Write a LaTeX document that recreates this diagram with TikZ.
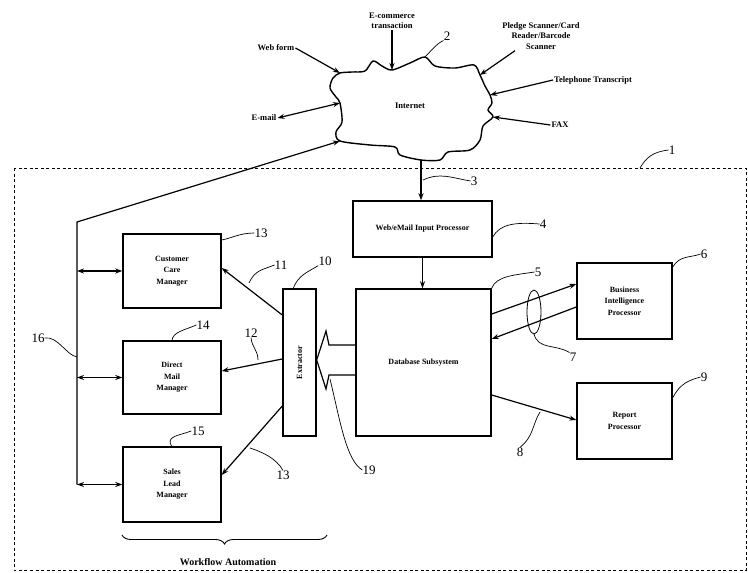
\documentclass[tikz,border=0pt]{standalone}
\usepackage{fontspec}
\usepackage{graphicx}
\setmainfont{Liberation Serif}
\usetikzlibrary{arrows.meta,decorations.pathreplacing,calc}
\begin{document}
\begin{tikzpicture}[x=1pt,y=-1pt,
  box/.style={draw,line width=1.4pt,align=center,font=\fontsize{8}{11.5}\selectfont\bfseries,inner sep=0pt},
  txt/.style={align=center,font=\fontsize{8.5}{10.5}\selectfont\bfseries,inner sep=1pt},
  num/.style={font=\fontsize{13}{13}\selectfont,inner sep=0pt},
  conn/.style={line width=1.2pt,-{Stealth[length=7pt,width=5pt]}},
  bidir/.style={line width=1.2pt,{Stealth[length=7pt,width=5pt]}-{Stealth[length=7pt,width=5pt]}},
  lead/.style={line width=0.7pt},
]
\useasboundingbox (0,0) rectangle (748,573);

% outer dashed system boundary
\draw[dash pattern=on 3pt off 2.5pt, line width=0.9pt] (14,168) rectangle (746,570);

% Internet cloud
\draw[line width=1.4pt] plot[smooth cycle, tension=0.5] coordinates {
 (333,78) (340,73) (352,72) (365,71) (373,61) (382,66) (392,70) (410,63) (425,57)
 (435,66) (455,68) (474,65) (480,75) (485,86) (490,95) (492,103) (488,110) (493,117)
 (483,126) (480,140) (470,150) (448,152) (440,160) (421,160) (400,155) (395,147)
 (370,145) (340,141) (336,132) (342,122) (340,103) (336,97) (330,88)};
\node[txt] (inet) at (410,106) {Internet};
\coordinate (cWeb) at (340,73);
\coordinate (cEcom) at (392,70);
\coordinate (c2) at (425,57);
\coordinate (cPledge) at (480,75);
\coordinate (cTel) at (490,95);
\coordinate (cFax) at (493,117);
\coordinate (cEmail) at (340,103);
\coordinate (cTrunk) at (340,141);
\coordinate (cBot) at (421,160);

% input sources
\node[txt] (web) at (276,48) {Web form};
\node[txt] (ecom) at (392,21) {E-commerce\\transaction};
\node[txt] (email) at (264,118) {E-mail};
\node[txt] (pledge) at (541,36) {Pledge Scanner/Card\\Reader/Barcode\\Scanner};
\node[txt] (tel) at (593,80) {Telephone Transcript};
\node[txt] (fax) at (560,125) {FAX};

\draw[conn] (web.east) -- (cWeb);
\draw[conn] (ecom.south) -- (cEcom);
\draw[bidir] (email.east) -- (cEmail);
\draw[conn] ([xshift=-26pt]pledge.south) -- (cPledge);
\draw[conn] (tel.west) -- (cTel);
\draw[conn] (fax.west) -- (cFax);

% processing boxes
\node[box,minimum width=139pt,minimum height=56pt] (inp) at (422.5,229) {Web/eMail Input Processor};
\node[box,minimum width=135pt,minimum height=147pt] (db) at (423.5,362.5) {Database Subsystem};
\node[box,minimum width=95pt,minimum height=76pt] (bi) at (624.5,301) {Business\\Intelligence\\Processor};
\node[box,minimum width=95pt,minimum height=76pt] (rep) at (624.5,421) {Report\\Processor};
\node[box,minimum width=33pt,minimum height=147pt] (extr) at (299.5,362.5) {\rotatebox{90}{Extractor}};

\node[box,minimum width=98pt,minimum height=74pt] (ccm) at (172,271) {Customer\\Care\\Manager};
\node[box,minimum width=98pt,minimum height=73pt] (dmm) at (172,377.5) {Direct\\Mail\\Manager};
\node[box,minimum width=98pt,minimum height=75pt] (slm) at (172,484.5) {Sales\\Lead\\Manager};

% main flow
\draw[conn] (cBot) -- (cBot |- inp.north);
\draw[conn] (inp.south) -- (inp.south |- db.north);
\draw[conn] (db.east |- 0,314) -- (bi.west |- 0,284);
\draw[conn] (bi.west |- 0,307) -- (db.east |- 0,339);
\draw[line width=0.8pt] (534,312) ellipse [x radius=7, y radius=22];
\draw[conn] (db.east |- 0,395) -- (rep.west |- 0,420);

% wide arrow 19 from database to extractor
\draw[line width=1.2pt] (db.west |- 0,345) -- (329,345) -- (326,331) -- (extr.east |- 0,360)
  -- (326,389) -- (329,375) -- (db.west |- 0,375);

% extractor to managers
\draw[conn] (extr.west |- 0,315) -- (ccm.east |- 0,268);
\draw[conn] (extr.west |- 0,359) -- (dmm.east |- 0,371);
\draw[conn] (extr.west |- 0,406) -- (slm.east |- 0,475);

% trunk 16
\coordinate (t0) at (77,222);
\coordinate (t3) at (77,484.5);
\draw[conn] (t3) -- (t0) -- (cTrunk);
\draw[bidir] (t0 |- ccm.west) -- (ccm.west);
\draw[bidir] (t0 |- dmm.west) -- (dmm.west);
\draw[bidir] (t0 |- slm.west) -- (slm.west);

% brace
\draw[line width=0.9pt, decorate, decoration={brace,amplitude=9pt,mirror}] (122,535) -- (327,535);
\node[txt,font=\fontsize{10}{12}\selectfont\bfseries] (wf) at (228,562) {Workflow Automation};

% reference numerals and leaders
\node[num] (n1) at (672,150) {1};
\draw[lead] (640,168) .. controls (646,158) and (652,152) .. (n1.west);
\node[num] (n2) at (447,36) {2};
\draw[lead] (c2) .. controls (432,50) and (436,44) .. (n2.south west);
\node[num] (n3) at (474,181) {3};
\draw[lead] (423,180) .. controls (440,172) and (452,178) .. (n3.west);
\node[num] (n4) at (543,224) {4};
\draw[lead] (inp.east |- 0,237) .. controls (500,224) and (515,222) .. (n4.west);
\node[num] (n5) at (538,272) {5};
\draw[lead] (db.north east) .. controls (496,276) and (515,275) .. (n5.west);
\node[num] (n6) at (704,254) {6};
\draw[lead] (bi.east |- 0,267) .. controls (680,255) and (690,258) .. (n6.west);
\node[num] (n7) at (573,357) {7};
\draw[lead] (534,334) .. controls (538,350) and (556,344) .. (n7.north west);
\node[num] (n8) at (520,452) {8};
\draw[lead] (540,412) .. controls (532,425) and (534,436) .. (n8.north);
\node[num] (n9) at (704,377) {9};
\draw[lead] (rep.east |- 0,398) .. controls (680,383) and (690,380) .. (n9.west);
\node[num] (n10) at (325,261) {10};
\draw[lead] (293,289) .. controls (298,275) and (308,272) .. (n10.south west);
\node[num] (n11) at (281,265) {11};
\draw[lead] (249,283) .. controls (255,270) and (262,270) .. (n11.west);
\node[num] (n12) at (251,333) {12};
\draw[lead] (258,360) .. controls (258,350) and (252,348) .. (n12.south);
\node[num] (n13a) at (261,233) {13};
\draw[lead] (ccm.north east |- 0,240) .. controls (232,238) and (240,233) .. (n13a.west);
\node[num] (n14) at (203,325) {14};
\draw[lead] (dmm.north |- 0,341) .. controls (172,332) and (185,330) .. (n14.west);
\node[num] (n15) at (198,431) {15};
\draw[lead] (slm.north |- 0,447) .. controls (165,436) and (178,436) .. (n15.west);
\node[num] (n13b) at (283,475) {13};
\draw[lead] (250,448) .. controls (262,452) and (276,458) .. (n13b.north);
\node[num] (n16) at (38,338) {16};
\draw[lead] (n16.east) .. controls (58,336) and (66,355) .. (t0 |- 0,357);
\node[num] (n19) at (369,470) {19};
\draw[lead] (330,379) .. controls (340,420) and (346,460) .. (n19.west);
\end{tikzpicture}
\end{document}
